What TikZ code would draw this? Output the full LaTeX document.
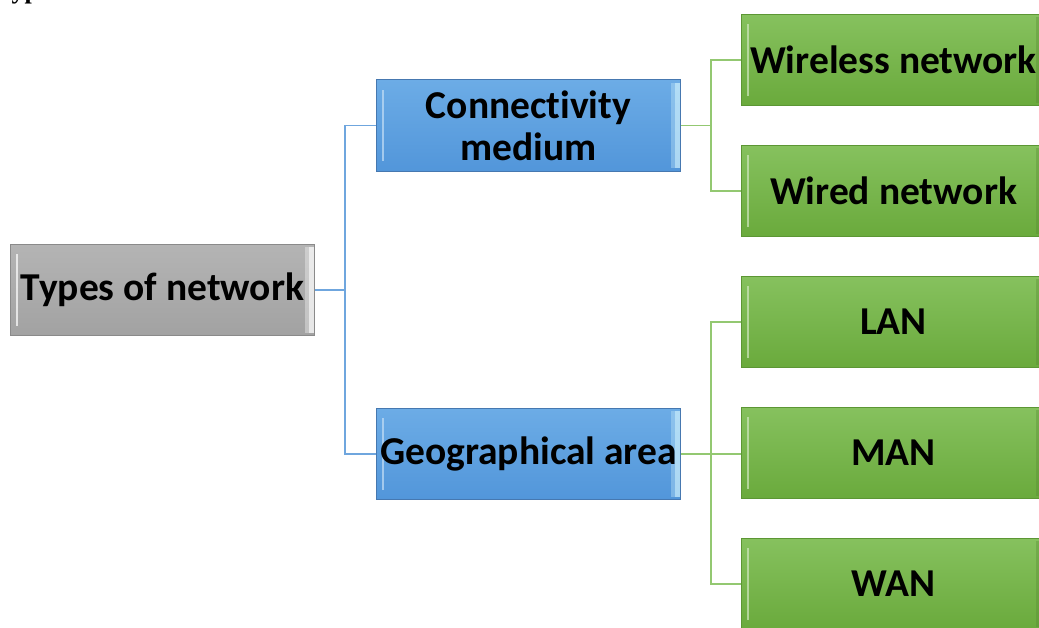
\documentclass[tikz,border=0pt]{standalone}
\usepackage{fontspec}
\setmainfont{Carlito}[Ligatures=NoCommon]
\newfontfamily\titlefont{Liberation Serif}
\usetikzlibrary{positioning}

\definecolor{greytop}{HTML}{B4B4B4}
\definecolor{greybot}{HTML}{A2A2A2}
\definecolor{greyline}{HTML}{8A8A8A}
\definecolor{bluetop}{HTML}{6CACE6}
\definecolor{bluebot}{HTML}{5296DA}
\definecolor{blueline}{HTML}{4678B0}
\definecolor{bluelink}{HTML}{6FA6DE}
\definecolor{greentop}{HTML}{86C15E}
\definecolor{greenbot}{HTML}{6AAA3C}
\definecolor{greenline}{HTML}{5C9634}
\definecolor{greenlink}{HTML}{93C871}

\tikzset{
  bevel/.style 2 args={path picture={
    \fill[#1, opacity=0.7] ([xshift=6pt,yshift=-10pt]path picture bounding box.north west) rectangle ([xshift=8pt,yshift=10pt]path picture bounding box.south west);
    \fill[#2, opacity=0.35] ([xshift=-10pt,yshift=-3pt]path picture bounding box.north east) rectangle ([xshift=-1pt,yshift=3pt]path picture bounding box.south east);
    \fill[#2, opacity=0.6] ([xshift=-6pt,yshift=-3pt]path picture bounding box.north east) rectangle ([xshift=-1pt,yshift=3pt]path picture bounding box.south east);
  }},
  box/.style={draw, line width=0.8pt, minimum height=91.2pt, minimum width=304.2pt, inner sep=2pt, align=center, text=black, font=\bfseries\fontsize{39.5}{42}\selectfont},
  rootbox/.style={box, draw=greyline, top color=greytop, bottom color=greybot, bevel={white}{white}},
  midbox/.style={box, draw=blueline, top color=bluetop, bottom color=bluebot, bevel={white!60!bluetop}{cyan!20!white}},
  leafbox/.style={box, draw=greenline, top color=greentop, bottom color=greenbot, bevel={white!60!greentop}{greenbot!80!black}},
  bluelinkline/.style={draw=bluelink, line width=1.6pt},
  greenlinkline/.style={draw=greenlink, line width=1.6pt}
}

\begin{document}
\begin{tikzpicture}[x=1pt, y=1pt]
  \useasboundingbox (0,0) rectangle (1039,-628);

  % heading, cut off by the page edge
  \node[anchor=base west, inner sep=0pt, font=\titlefont\bfseries\fontsize{26}{28}\selectfont] (title) at (-4,1) {Types of network};

  \node[rootbox] (root) at (162.5,-290) {Types of network};
  \node[midbox] (conn) at (528.5,-125.5) {Connectivity\\medium};
  \node[midbox] (geo) at (528.5,-454) {Geographical area};

  \node[leafbox] (wless) at (893.5,-60) {Wireless network};
  \node[leafbox, below=39pt of wless] (wired) {Wired network};
  \node[leafbox, below=39pt of wired] (lan) {LAN};
  \node[leafbox, below=39pt of lan] (man) {MAN};
  \node[leafbox, below=39pt of man] (wan) {WAN};

  \draw[bluelinkline] (root.east) -- ++(30,0) coordinate (j_1) |- (conn.west);
  \draw[bluelinkline] (j_1) |- (geo.west);

  \draw[greenlinkline] (conn.east) -- ++(30,0) coordinate (j_2) |- (wless.west);
  \draw[greenlinkline] (j_2) |- (wired.west);
  \draw[greenlinkline] (geo.east) -- ++(30,0) coordinate (j_3) |- (lan.west);
  \draw[greenlinkline] (j_3) |- (wan.west);
  \draw[greenlinkline] (geo.east) -- (geo.east -| man.west);

\end{tikzpicture}
\end{document}
